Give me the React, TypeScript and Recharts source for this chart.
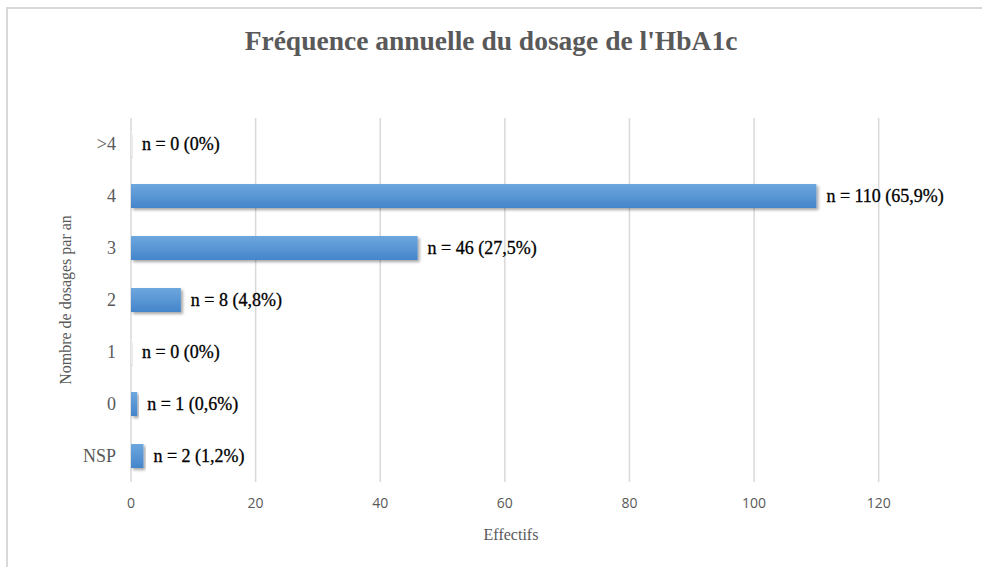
import React from "react";
import {
  BarChart,
  Bar,
  Cell,
  XAxis,
  YAxis,
  CartesianGrid,
  LabelList,
  Label,
} from "recharts";

const categories = [">4", "4", "3", "2", "1", "0", "NSP"];
const counts = [0, 110, 46, 8, 0, 1, 2];
const percents = ["0%", "65,9%", "27,5%", "4,8%", "0%", "0,6%", "1,2%"];
const xTicks = [0, 20, 40, 60, 80, 100, 120];
const xMax = 130;

const data = categories.map((cat, i) => ({
  cat,
  n: counts[i],
  label: `n = ${counts[i]} (${percents[i]})`,
}));

const serif = "'Liberation Serif', 'Times New Roman', serif";

// only draw grid lines at the real ticks (no line at the right edge)
const gridX = ({ offset }: any) =>
  offset ? xTicks.map((t) => offset.left + (t / xMax) * offset.width) : [];

const App = () => {
  return (
    <div
      style={{
        position: "absolute",
        left: 0,
        top: 0,
        width: 982,
        height: 567,
        background: "#fff",
        overflow: "hidden",
      }}
    >
      <div
        style={{
          position: "absolute",
          left: 6,
          top: 7,
          width: 980,
          height: 566,
          borderTop: "2px solid #d9d9d9",
          borderLeft: "2px solid #d9d9d9",
        }}
      />
      <div
        style={{
          position: "absolute",
          left: 0,
          top: 25,
          width: 982,
          textAlign: "center",
          fontFamily: serif,
          fontWeight: "bold",
          fontSize: 27.5,
          color: "#595959",
          lineHeight: "32px",
        }}
      >
        Fréquence annuelle du dosage de l'HbA1c
      </div>
      <BarChart
        width={982}
        height={567}
        data={data}
        layout="vertical"
        margin={{ top: 118, right: 41, bottom: 0, left: 0 }}
        barSize={24}
        style={{ position: "absolute", left: 0, top: 0 }}
      >
        <defs>
          <linearGradient id="barFill" x1="0" y1="0" x2="0" y2="1">
            <stop offset="0%" stopColor="#6ea7de" />
            <stop offset="100%" stopColor="#4485cb" />
          </linearGradient>
          <filter id="barShadow" x="-10%" y="-30%" width="130%" height="180%">
            <feDropShadow dx="2" dy="2" stdDeviation="1.5" floodColor="#000" floodOpacity="0.35" />
          </filter>
        </defs>
        <CartesianGrid
          horizontal={false}
          stroke="#d9d9d9"
          strokeWidth={1.5}
          verticalCoordinatesGenerator={gridX}
        />
        <XAxis
          type="number"
          domain={[0, xMax]}
          ticks={xTicks}
          axisLine={false}
          tickLine={false}
          tickMargin={10}
          height={85}
          tick={{ fill: "#595959", fontSize: 14, fontFamily: "'Open Sans', sans-serif" }}
        >
          <Label
            value="Effectifs"
            position="center"
            dx={-25}
            dy={10}
            style={{ fill: "#595959", fontSize: 16, fontFamily: serif }}
          />
        </XAxis>
        <YAxis
          type="category"
          dataKey="cat"
          width={131}
          axisLine={false}
          tickLine={false}
          tickMargin={9}
          tick={{ fill: "#595959", fontSize: 18, fontFamily: serif }}
        >
          <Label
            value="Nombre de dosages par an"
            position="center"
            angle={-90}
            style={{ fill: "#595959", fontSize: 16, fontFamily: serif }}
          />
        </YAxis>
        <Bar
          dataKey="n"
          fill="url(#barFill)"
          filter="url(#barShadow)"
          minPointSize={1}
          isAnimationActive={false}
        >
          {data.map((d, i) => (
            <Cell key={`c-${i}`} fill={d.n === 0 ? "#ececec" : "url(#barFill)"} />
          ))}
          <LabelList
            dataKey="label"
            position="right"
            offset={10}
            fill="#000"
            stroke="#000"
            strokeWidth={0.3}
            fontSize={18}
            fontFamily={serif}
          />
        </Bar>
      </BarChart>
    </div>
  );
};

export default App;
